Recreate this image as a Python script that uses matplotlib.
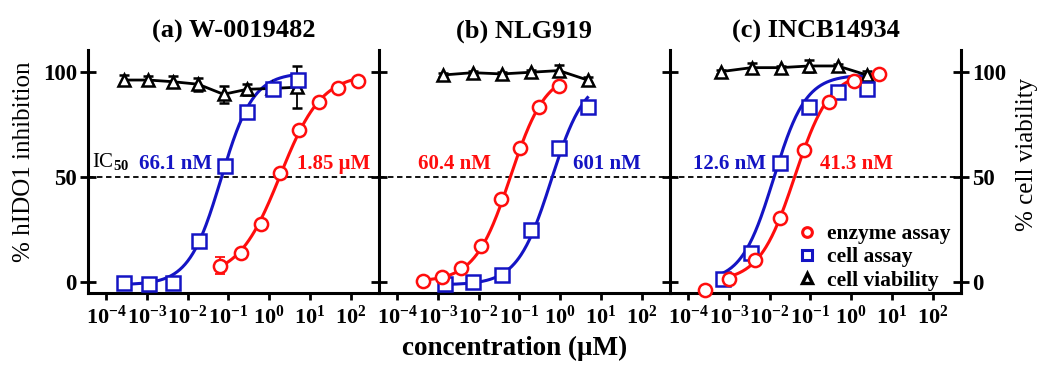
import numpy as np
import matplotlib
matplotlib.use('Agg')
import matplotlib.pyplot as plt
from matplotlib.lines import Line2D

plt.rcParams['font.family'] = 'Liberation Serif'
plt.rcParams['font.weight'] = 'bold'
plt.rcParams['mathtext.fontset'] = 'custom'
plt.rcParams['mathtext.rm'] = 'Liberation Serif'
plt.rcParams['mathtext.bf'] = 'Liberation Serif:bold'

RED = '#ff0d0d'
BLUE = '#1414c4'

titles = ['(a) W-0019482', '(b) NLG919', '(c) INCB14934']
tick_exps = [-4, -3, -2, -1, 0, 1, 2]

# concentrations in uM, responses in %
a_via_x = [0.000275, 0.0011, 0.00437, 0.0182, 0.0759, 0.288, 1.20, 4.90]
a_via_y = [96.0, 96.0, 95.2, 94.0, 89.2, 91.6, 92.0, 92.6]
a_via_err = [2.5, 2.0, 2.5, 3.0, 4.0, 2.5, 2.0, 10.0]
a_cell_x = [0.000275, 0.00112, 0.00447, 0.0186, 0.0813, 0.282, 1.23, 5.01]
a_cell_y = [-0.8, -1.1, -0.8, 19.5, 55.1, 80.7, 91.6, 96.0]
a_enz_x = [0.0617, 0.200, 0.631, 1.86, 5.50, 16.6, 49.0, 148.0]
a_enz_y = [7.6, 13.5, 27.3, 51.6, 72.2, 85.7, 92.1, 95.7]
a_enz_err = [4.0, 0, 0, 0, 0, 0, 0, 0]

b_via_x = [0.00135, 0.00724, 0.0372, 0.191, 0.933, 4.68]
b_via_y = [98.4, 99.5, 98.9, 99.7, 100.5, 96.0]
b_via_err = [1.0, 1.0, 1.0, 1.0, 2.5, 1.5]
b_cell_x = [0.00151, 0.00741, 0.0372, 0.191, 0.933, 4.68]
b_cell_y = [-1.1, 0.0, 3.0, 24.6, 63.8, 83.3]
b_enz_x = [0.000427, 0.00126, 0.00363, 0.0112, 0.0347, 0.102, 0.309, 0.933]
b_enz_y = [0.3, 2.4, 6.7, 17.1, 39.2, 63.5, 83.3, 93.3]
b_enz_err = [0, 0, 0, 0, 0, 0, 0, 0]

c_via_x = [0.000646, 0.00363, 0.0186, 0.0933, 0.468, 2.40]
c_via_y = [100.0, 101.9, 101.9, 102.7, 102.7, 98.4]
c_via_err = [1.0, 2.0, 1.0, 3.0, 1.0, 2.0]
c_cell_x = [0.000708, 0.00347, 0.0178, 0.0933, 0.468, 2.40]
c_cell_y = [1.1, 13.5, 56.4, 83.0, 90.5, 91.6]
c_enz_x = [0.000263, 0.00102, 0.00437, 0.0178, 0.0708, 0.288, 1.17, 4.68]
c_enz_y = [-4.0, 1.1, 10.3, 30.2, 62.7, 85.7, 95.6, 98.9]
c_enz_err = [0, 0, 0, 0, 0, 0, 0, 0]

# fitted dose-response curves: bottom, top, IC50 (uM), hill slope
a_enz_fit = [2.0, 99.0, 1.85, 0.85]
a_cell_fit = [-1.5, 99.5, 0.0661, 1.1]
b_enz_fit = [0.0, 100.0, 0.0604, 1.0]
b_cell_fit = [-1.5, 98.0, 0.601, 1.05]
c_enz_fit = [0.0, 100.0, 0.0413, 1.0]
c_cell_fit = [0.0, 98.5, 0.0126, 1.1]

ic50_enz = ['1.85 \u03bcM', '60.4 nM', '41.3 nM']
ic50_cell = ['66.1 nM', '601 nM', '12.6 nM']


def hill(x, fit):
    bottom, top, ic50, h = fit
    return bottom + (top - bottom) / (1 + (ic50 / x) ** h)


panels = [
    (a_via_x, a_via_y, a_via_err, a_cell_x, a_cell_y, a_enz_x, a_enz_y, a_enz_err, a_enz_fit, a_cell_fit, 0),
    (b_via_x, b_via_y, b_via_err, b_cell_x, b_cell_y, b_enz_x, b_enz_y, b_enz_err, b_enz_fit, b_cell_fit, 0),
    (c_via_x, c_via_y, c_via_err, c_cell_x, c_cell_y, c_enz_x, c_enz_y, c_enz_err, c_enz_fit, c_cell_fit, 1),
]

fig = plt.figure(figsize=(10.4, 3.67), dpi=100)
lefts = [88, 379, 670]
axes = []
for i, left in enumerate(lefts):
    ax = fig.add_axes([left / 1040, 1 - 293 / 367, 291 / 1040, 243 / 367])
    axes.append(ax)

for i, ax in enumerate(axes):
    via_x, via_y, via_err, cell_x, cell_y, enz_x, enz_y, enz_err, enz_fit, cell_fit, skip = panels[i]
    ax.set_xscale('log')

    ax.axhline(50, color='black', lw=1.3, ls=(0, (3, 2)), zorder=1)

    xs = np.logspace(np.log10(enz_x[skip]), np.log10(enz_x[-1]), 200)
    ax.plot(xs, hill(xs, enz_fit), color=RED, lw=2.2, zorder=3, clip_on=False)
    xs = np.logspace(np.log10(cell_x[0]), np.log10(cell_x[-1]), 200)
    ax.plot(xs, hill(xs, cell_fit), color=BLUE, lw=2.2, zorder=3, clip_on=False)

    ax.errorbar(via_x, via_y, yerr=via_err, color='black', lw=2.0, elinewidth=1.3,
                capsize=3.5, capthick=1.3, marker='^', ms=9, mfc='white', mec='black',
                mew=1.8, zorder=4, clip_on=False)
    err = np.array(enz_err)
    ax.errorbar(enz_x, enz_y, yerr=np.where(err > 0, err, np.nan), color=RED, ls='none',
                elinewidth=1.3, capsize=3.5, capthick=1.3, zorder=4)
    ax.plot(cell_x, cell_y, ls='none', marker='s', ms=9.5, mfc='white', mec=BLUE,
            mew=1.8, zorder=5, clip_on=False)
    ax.plot(enz_x, enz_y, ls='none', marker='o', ms=9.5, mfc='white', mec=RED,
            mew=1.8, zorder=5, clip_on=False)

    ax.set_xlim(10 ** -4.44, 10 ** 2.69)
    ax.set_ylim(-5.4, 110.3)
    ax.set_xticks([10.0 ** e for e in tick_exps])
    ax.set_xticklabels([r'$\mathbf{10^{%d}}$' % e for e in tick_exps], fontsize=16)
    ax.minorticks_off()
    ax.set_yticks([0, 50, 100])
    ax.tick_params(axis='x', direction='out', length=5, width=2, pad=4)
    ax.tick_params(axis='y', direction='inout', length=12, width=2, labelsize=16.5, pad=2)

    for side in ['top', 'right']:
        ax.spines[side].set_visible(False)
    for side in ['left', 'bottom', 'right']:
        ax.spines[side].set_linewidth(2.2)

    ax.set_title(titles[i], fontsize=19, fontweight='bold', pad=9)

    if i > 0:
        ax.tick_params(axis='y', labelleft=False)

axes[0].set_ylabel('% hIDO1 inhibition', fontsize=18)
axes[0].yaxis.set_label_coords(-0.182, 0.54)
axes[2].spines['right'].set_visible(True)
axes[2].tick_params(axis='y', right=True, labelright=True)
axes[2].yaxis.set_label_position('right')
axes[2].set_ylabel('% cell viability', fontsize=18)
axes[2].yaxis.set_label_coords(1.19, 0.57)

# IC50 annotations
axes[0].text(10 ** -4.33, 57, 'IC$_{50}$', fontsize=15, fontweight='normal', va='center')
axes[0].text(10 ** -3.18, 56, ic50_cell[0], fontsize=15, color=BLUE, va='center')
axes[0].text(10 ** 2.47, 56, ic50_enz[0], fontsize=15, color=RED, va='center', ha='right')
axes[1].text(10 ** -3.49, 56, ic50_enz[1], fontsize=15, color=RED, va='center')
axes[1].text(10 ** 0.31, 56, ic50_cell[1], fontsize=15, color=BLUE, va='center')
axes[2].text(10 ** -3.88, 56, ic50_cell[2], fontsize=15, color=BLUE, va='center')
axes[2].text(10 ** -0.76, 56, ic50_enz[2], fontsize=15, color=RED, va='center')

handles = [
    Line2D([], [], ls='none', marker='o', ms=7, mfc='white', mec=RED, mew=2.2),
    Line2D([], [], ls='none', marker='s', ms=7, mfc='white', mec=BLUE, mew=2.2),
    Line2D([], [], ls='none', marker='^', ms=7, mfc='white', mec='black', mew=2.4),
]
axes[2].legend(handles, ['enzyme assay', 'cell assay', 'cell viability'],
               loc='lower right', bbox_to_anchor=(1.0, -0.035), frameon=False,
               fontsize=15.5, handlelength=0.8, handletextpad=0.5,
               labelspacing=0.15, borderaxespad=0.1)

fig.text(0.495, 0.05, 'concentration (\u03bcM)', ha='center', va='center',
         fontsize=19.5, fontweight='bold')

fig.savefig('out.png', dpi=100)
